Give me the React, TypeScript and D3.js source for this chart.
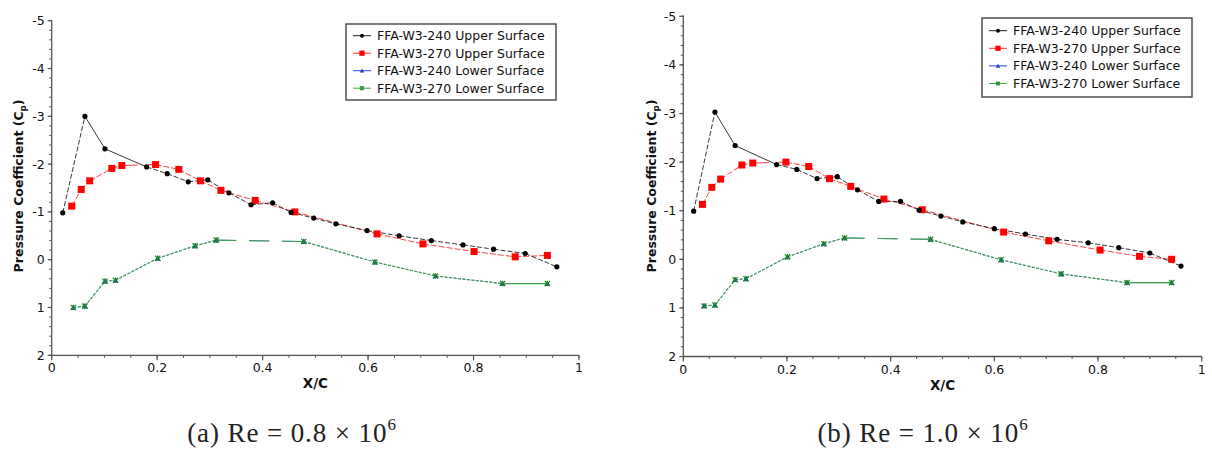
import React from 'react';
import * as d3 from 'd3';

// ---------- tick labels ----------
const xTickValues = [0, 0.2, 0.4, 0.6, 0.8, 1];
const xTickLabels = ['0', '0.2', '0.4', '0.6', '0.8', '1'];
const yTickValues = [-5, -4, -3, -2, -1, 0, 1, 2];
const yTickLabels = ['-5', '-4', '-3', '-2', '-1', '0', '1', '2'];

const seriesNames = [
  'FFA-W3-240 Upper Surface',
  'FFA-W3-270 Upper Surface',
  'FFA-W3-240 Lower Surface',
  'FFA-W3-270 Lower Surface',
];
const captionTexts = ['(a) Re = 0.8 × 10', '(b) Re = 1.0 × 10'];
const captionExponent = '6';
const xTitle = 'X/C';
const yTitle = 'Pressure Coefficient (C';
const yTitleSub = 'p';

// ---------- panel (a): Re = 0.8e6 ----------
const xA240U = [0.021, 0.063, 0.101, 0.180, 0.219, 0.259, 0.296, 0.336, 0.378, 0.419, 0.454, 0.497, 0.539, 0.598, 0.659, 0.720, 0.780, 0.838, 0.898, 0.958];
const cpA240U = [-0.98, -3.00, -2.32, -1.94, -1.80, -1.63, -1.67, -1.40, -1.15, -1.19, -0.99, -0.87, -0.75, -0.61, -0.50, -0.40, -0.31, -0.22, -0.13, 0.15];
const xA270U = [0.038, 0.056, 0.072, 0.114, 0.133, 0.197, 0.241, 0.282, 0.321, 0.386, 0.461, 0.617, 0.704, 0.801, 0.879, 0.940];
const cpA270U = [-1.12, -1.47, -1.65, -1.91, -1.97, -1.99, -1.89, -1.65, -1.45, -1.24, -1.00, -0.54, -0.33, -0.17, -0.06, -0.09];
const xA240L = [0.041, 0.063, 0.101, 0.121, 0.201, 0.272, 0.312, 0.478, 0.613, 0.728, 0.855, 0.940];
const cpA240L = [1.00, 0.97, 0.45, 0.43, -0.03, -0.29, -0.41, -0.38, 0.05, 0.34, 0.50, 0.50];
const xA270L = [0.041, 0.063, 0.101, 0.121, 0.201, 0.272, 0.312, 0.478, 0.613, 0.728, 0.855, 0.940];
const cpA270L = [1.00, 0.97, 0.45, 0.43, -0.03, -0.29, -0.41, -0.38, 0.05, 0.34, 0.50, 0.50];

// ---------- panel (b): Re = 1.0e6 ----------
const xB240U = [0.020, 0.061, 0.100, 0.180, 0.219, 0.258, 0.297, 0.336, 0.377, 0.419, 0.455, 0.497, 0.539, 0.600, 0.660, 0.721, 0.781, 0.840, 0.900, 0.960];
const cpB240U = [-0.99, -3.03, -2.34, -1.95, -1.85, -1.66, -1.70, -1.43, -1.19, -1.19, -1.01, -0.89, -0.77, -0.63, -0.52, -0.41, -0.34, -0.24, -0.13, 0.14];
const xB270U = [0.037, 0.055, 0.072, 0.113, 0.134, 0.198, 0.242, 0.282, 0.323, 0.387, 0.461, 0.618, 0.705, 0.804, 0.880, 0.942];
const cpB270U = [-1.13, -1.48, -1.65, -1.94, -1.98, -2.00, -1.91, -1.66, -1.50, -1.24, -1.02, -0.56, -0.38, -0.19, -0.06, 0.00];
const xB240L = [0.040, 0.061, 0.100, 0.121, 0.201, 0.271, 0.311, 0.477, 0.613, 0.729, 0.856, 0.942];
const cpB240L = [0.96, 0.94, 0.42, 0.40, -0.05, -0.32, -0.44, -0.41, 0.01, 0.30, 0.48, 0.48];
const xB270L = [0.040, 0.061, 0.100, 0.121, 0.201, 0.271, 0.311, 0.477, 0.613, 0.729, 0.856, 0.942];
const cpB270L = [0.96, 0.94, 0.42, 0.40, -0.05, -0.32, -0.44, -0.41, 0.01, 0.30, 0.48, 0.48];

type Pt = [number, number];
const zip = (xs: number[], ys: number[]): Pt[] => xs.map((x, i) => [x, ys[i]]);

const panelData = [
  [zip(xA240U, cpA240U), zip(xA270U, cpA270U), zip(xA240L, cpA240L), zip(xA270L, cpA270L)],
  [zip(xB240U, cpB240U), zip(xB270U, cpB270U), zip(xB240L, cpB240L), zip(xB270L, cpB270L)],
];

// ---------- layout (pixel geometry) ----------
const panels = [
  { left: 51.7, right: 579, top: 20.7, bottom: 355.3, yTitleX: 18, captionX: 292, legend: { x: 346, y: 24, w: 210, h: 76, row0: 35.7, dy: 17.5 } },
  { left: 683.3, right: 1201.7, top: 16.3, bottom: 356.5, yTitleX: 651, captionX: 923, legend: { x: 982, y: 18, w: 210, h: 79, row0: 30.7, dy: 17.6 } },
];

const styles = [
  { stroke: '#222', dash: '5,2', width: 1, opacity: 0.9 },
  { stroke: '#ff3030', dash: '6,2', width: 1, opacity: 0.9 },
  { stroke: '#2b44d0', dash: '3,1.5', width: 1, opacity: 0.8 },
  { stroke: '#3fa33f', dash: '3,1.5', width: 1.1, opacity: 0.95 },
];
// per-segment dash overrides [series, segmentIndex, dash]
const segOverrides: [number, number, string][] = [
  [1, 4, '16,10'],
  [3, 6, '20,13'],
  [2, 6, '20,13'],
  [3, 10, ''],
  [2, 10, ''],
  [0, 1, ''],
  [0, 2, ''],
];

const FONT = 'DejaVu Sans, Verdana, sans-serif';

function Marker({ kind, x, y, s = 1 }: { kind: number; x: number; y: number; s?: number }) {
  if (kind === 0) return <circle cx={x} cy={y} r={2.6 * s} fill="#000" />;
  if (kind === 1) {
    const h = 3.5 * s;
    return <rect x={x - h} y={y - h} width={2 * h} height={2 * h} fill="#ff0000" />;
  }
  if (kind === 2) {
    const h = 3 * s;
    return <path d={`M${x},${y - h}L${x + h},${y + h * 0.8}L${x - h},${y + h * 0.8}Z`} fill="#1f3fd6" />;
  }
  const h = 2.6 * s;
  return (
    <g stroke="#1e8a1e" strokeWidth={1.2}>
      <line x1={x - h} y1={y - h} x2={x + h} y2={y + h} />
      <line x1={x - h} y1={y + h} x2={x + h} y2={y - h} />
      <line x1={x} y1={y - h} x2={x} y2={y + h} />
    </g>
  );
}

function Panel({ idx }: { idx: number }) {
  const p = panels[idx];
  const data = panelData[idx];
  const xs = d3.scaleLinear().domain([0, 1]).range([p.left, p.right]);
  const ys = d3.scaleLinear().domain([-5, 2]).range([p.top, p.bottom]);
  const line = d3.line<Pt>().x((d) => xs(d[0])).y((d) => ys(d[1]));
  const axisColor = '#555';
  const xMinor = d3.range(0, 1.0001, 0.05);
  const yMinor = d3.range(-5, 2.0001, 0.2);

  const drawOrder = [2, 3, 1, 0];
  return (
    <g>
      {/* lines */}
      {drawOrder.map((si) => {
        const st = styles[si];
        const pts = data[si];
        return (
          <g key={'l' + si}>
            {pts.slice(1).map((pt, k) => {
              const ov = segOverrides.find((o) => o[0] === si && o[1] === k);
              const dash = ov ? ov[2] : st.dash;
              return (
                <path
                  key={k}
                  d={line([pts[k], pt]) || ''}
                  fill="none"
                  stroke={st.stroke}
                  strokeWidth={st.width}
                  strokeOpacity={st.opacity}
                  strokeDasharray={dash || undefined}
                />
              );
            })}
          </g>
        );
      })}
      {/* markers */}
      {drawOrder.map((si) => (
        <g key={'m' + si}>
          {data[si].map((d, k) => (
            <Marker key={k} kind={si} x={xs(d[0])} y={ys(d[1])} />
          ))}
        </g>
      ))}
      {/* axes */}
      <line x1={p.left} y1={p.top - 1} x2={p.left} y2={p.bottom} stroke={axisColor} strokeWidth={1.3} />
      <line x1={p.left} y1={p.bottom} x2={p.right} y2={p.bottom} stroke={axisColor} strokeWidth={1.3} />
      {yMinor.map((v, i) => (
        <line key={'ym' + i} x1={p.left - 2.5} x2={p.left} y1={ys(v)} y2={ys(v)} stroke={axisColor} strokeWidth={1} />
      ))}
      {yTickValues.map((v, i) => (
        <g key={'yt' + i}>
          <line x1={p.left - 4} x2={p.left} y1={ys(v)} y2={ys(v)} stroke={axisColor} strokeWidth={1.2} />
          <text x={p.left - 7} y={ys(v)} dy="0.36em" textAnchor="end" fontFamily={FONT} fontSize={12.5} fill="#111">
            {yTickLabels[i]}
          </text>
        </g>
      ))}
      {xMinor.map((v, i) => (
        <line key={'xm' + i} x1={xs(v)} x2={xs(v)} y1={p.bottom} y2={p.bottom + 2.5} stroke={axisColor} strokeWidth={1} />
      ))}
      {xTickValues.map((v, i) => (
        <g key={'xt' + i}>
          <line x1={xs(v)} x2={xs(v)} y1={p.bottom} y2={p.bottom + 5} stroke={axisColor} strokeWidth={1.2} />
          <text x={xs(v)} y={p.bottom + 17} textAnchor="middle" fontFamily={FONT} fontSize={12.5} fill="#111">
            {xTickLabels[i]}
          </text>
        </g>
      ))}
      {/* titles */}
      <text x={(p.left + p.right) / 2} y={p.bottom + 33} textAnchor="middle" fontFamily={FONT} fontWeight="bold" fontSize={13.5} fill="#111">
        {xTitle}
      </text>
      <text
        transform={`translate(${p.yTitleX},${186}) rotate(-90)`}
        textAnchor="middle"
        dy="0.36em"
        fontFamily={FONT}
        fontWeight="bold"
        fontSize={12.5}
        fill="#111"
      >
        {yTitle}
        <tspan fontSize={8.5} dy="3">{yTitleSub}</tspan>
        <tspan dy="-3">)</tspan>
      </text>
      {/* legend */}
      <rect x={p.legend.x} y={p.legend.y} width={p.legend.w} height={p.legend.h} fill="#fff" stroke="#444" strokeWidth={1.4} />
      {seriesNames.map((name, i) => {
        const cy = p.legend.row0 + i * p.legend.dy;
        const lx = p.legend.x + 7;
        return (
          <g key={'lg' + i}>
            <line x1={lx} x2={lx + 18} y1={cy} y2={cy} stroke={styles[i].stroke} strokeWidth={1} />
            <Marker kind={i} x={lx + 9} y={cy} s={0.75} />
            <text x={lx + 24} y={cy} dy="0.36em" fontFamily={FONT} fontSize={12.5} fill="#111">
              {name}
            </text>
          </g>
        );
      })}
      {/* caption */}
      <text
        x={p.captionX}
        y={442}
        textAnchor="middle"
        fontFamily="Liberation Serif, Times New Roman, serif"
        fontSize={27}
        letterSpacing={0.9}
        fill="#222"
      >
        {captionTexts[idx]}
        <tspan fontSize={17} dy="-12">{captionExponent}</tspan>
      </text>
    </g>
  );
}

export default function App() {
  return (
    <svg
      width={1212}
      height={450}
      style={{ position: 'absolute', left: 0, top: 0, background: '#fff' }}
      xmlns="http://www.w3.org/2000/svg"
    >
      <rect x={0} y={0} width={1212} height={450} fill="#fff" />
      <Panel idx={0} />
      <Panel idx={1} />
    </svg>
  );
}
